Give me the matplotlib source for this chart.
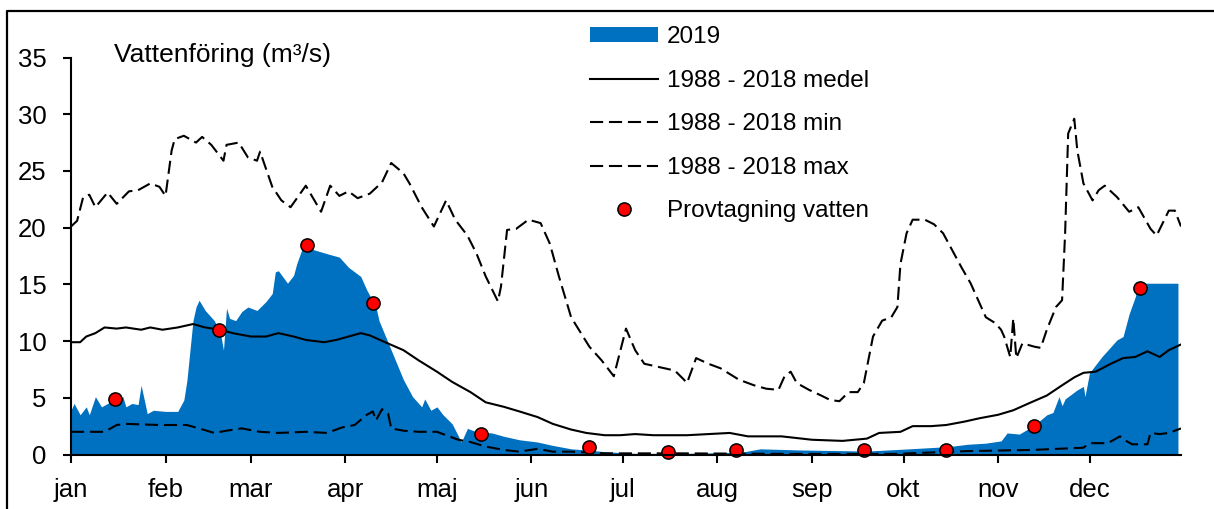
import numpy as np
import matplotlib
matplotlib.use('Agg')
import matplotlib.pyplot as plt
from matplotlib.lines import Line2D
from matplotlib.patches import Patch

plt.rcParams['font.family'] = ['Liberation Sans', 'DejaVu Sans']

months = ['jan', 'feb', 'mar', 'apr', 'maj', 'jun', 'jul', 'aug', 'sep', 'okt', 'nov', 'dec']
month_start = [0, 31, 59, 90, 120, 151, 181, 212, 243, 273, 304, 334]

# (day of year, m3/s)
flow_2019 = [(0, 3.9), (1, 4.5), (3, 3.5), (5, 4.2), (6, 3.5), (8, 5.1), (10, 4.2), (12, 4.5),
             (14, 4.8), (17, 5.1), (18, 4.2), (20, 4.5), (22, 4.4), (23, 6.1), (25, 3.6), (27, 3.9),
             (31, 3.8), (35, 3.8), (37, 4.8), (38, 6.5), (40, 11.8), (41, 13.0), (42, 13.6), (44, 12.7),
             (47, 11.8), (49, 10.7), (50, 9.2), (51, 12.9), (52, 12.0), (54, 11.8), (56, 12.6), (58, 13.0),
             (61, 12.7), (64, 13.5), (66, 14.2), (67, 16.1), (68, 16.2), (71, 15.1), (73, 15.8), (74, 16.8),
             (76, 18.3), (79, 18.1), (84, 17.7), (88, 17.4), (91, 16.5), (95, 15.7), (97, 14.5), (100, 13.0),
             (101, 11.8), (105, 9.2), (109, 6.6), (112, 5.1), (115, 4.2), (116, 4.9), (118, 3.9), (120, 4.2),
             (122, 3.5), (125, 2.7), (128, 1.1), (130, 2.3), (133, 2.0), (138, 1.9), (142, 1.6), (147, 1.3),
             (153, 1.1), (158, 0.8), (164, 0.5), (169, 0.4), (175, 0.25), (185, 0.1), (202, 0.1), (220, 0.2),
             (226, 0.5), (239, 0.4), (261, 0.3), (275, 0.5), (288, 0.7), (294, 0.9), (300, 1.0), (305, 1.2),
             (307, 1.9), (311, 1.8), (316, 2.6), (320, 3.5), (322, 3.7), (324, 5.1), (325, 4.3), (326, 4.9),
             (330, 5.7), (332, 6.0), (332.5, 5.1), (334, 7.2), (338, 8.6), (343, 10.1), (345, 10.4),
             (347, 12.4), (349, 13.9), (350, 15.1), (363, 15.1)]

flow_mean = [(0, 9.9), (3, 9.9), (5, 10.4), (8, 10.7), (11, 11.2), (15, 11.1), (18, 11.2), (23, 11.0),
             (26, 11.2), (30, 11.0), (35, 11.2), (40, 11.5), (44, 11.2), (49, 11.0), (53, 10.7), (59, 10.4),
             (64, 10.4), (68, 10.7), (73, 10.4), (77, 10.1), (83, 9.9), (87, 10.1), (91, 10.4), (95, 10.7),
             (98, 10.5), (103, 9.9), (109, 9.2), (114, 8.3), (120, 7.3), (125, 6.4), (131, 5.5), (136, 4.6),
             (142, 4.2), (147, 3.8), (153, 3.3), (158, 2.7), (164, 2.2), (169, 1.9), (175, 1.7), (180, 1.7),
             (185, 1.8), (191, 1.7), (196, 1.7), (202, 1.7), (216, 1.9), (222, 1.6), (233, 1.6), (243, 1.3),
             (253, 1.2), (261, 1.4), (265, 1.9), (272, 2.0), (276, 2.5), (282, 2.5), (287, 2.6), (293, 2.9),
             (298, 3.2), (304, 3.5), (309, 3.9), (314, 4.5), (320, 5.2), (325, 6.1), (329, 6.8), (332, 7.2),
             (336, 7.3), (341, 8.0), (345, 8.5), (349, 8.6), (353, 9.1), (357, 8.6), (360, 9.2), (364, 9.7)]

flow_min = [(0, 2.0), (11, 2.0), (15, 2.6), (18, 2.7), (29, 2.6), (38, 2.6), (42, 2.3), (47, 1.9),
            (51, 2.1), (56, 2.3), (62, 2.0), (68, 1.9), (77, 2.0), (84, 1.9), (89, 2.4), (93, 2.6),
            (97, 3.5), (99, 3.8), (100, 3.0), (102, 4.0), (104, 3.6), (105, 2.3), (109, 2.1), (114, 2.0),
            (120, 2.0), (123, 1.7), (127, 1.3), (131, 1.1), (136, 0.7), (142, 0.4), (147, 0.25), (153, 0.5),
            (158, 0.25), (164, 0.25), (175, 0.1), (200, 0.1), (240, 0.05), (270, 0.05), (294, 0.3),
            (315, 0.4), (332, 0.6), (334, 1.0), (340, 1.0), (344, 1.6), (346, 1.2), (348, 0.9), (353, 0.9),
            (354, 1.9), (357, 1.8), (360, 1.9), (364, 2.3)]

flow_max = [(0, 20.1), (2, 20.6), (4, 22.7), (6, 22.9), (8, 21.8), (12, 23.1), (15, 22.1), (19, 23.2),
            (22, 23.3), (26, 23.9), (29, 23.6), (31, 22.8), (33, 26.8), (34, 27.8), (37, 28.1), (41, 27.5),
            (43, 28.0), (46, 27.3), (50, 25.9), (51, 27.3), (55, 27.5), (58, 26.2), (61, 25.9), (62, 26.7),
            (66, 23.6), (69, 22.4), (72, 21.8), (77, 23.7), (82, 21.4), (85, 23.7), (88, 22.8), (91, 23.2),
            (94, 22.6), (98, 23.0), (102, 24.0), (105, 25.7), (109, 24.8), (111, 23.9), (115, 21.8),
            (119, 20.1), (123, 22.4), (126, 20.7), (130, 19.3), (133, 17.7), (136, 15.7), (140, 13.5),
            (141, 14.8), (143, 19.8), (146, 19.9), (150, 20.7), (154, 20.4), (157, 18.6), (160, 15.7),
            (164, 12.1), (170, 9.5), (174, 8.3), (178, 6.9), (182, 11.1), (185, 9.2), (188, 8.0), (193, 7.7),
            (198, 7.4), (201, 6.6), (202, 6.3), (205, 8.5), (209, 8.0), (213, 7.6), (219, 6.6), (224, 6.1),
            (228, 5.8), (232, 5.7), (234, 6.9), (236, 7.3), (238, 6.3), (242, 5.7), (246, 5.2), (249, 4.8),
            (252, 4.7), (255, 5.5), (258, 5.5), (260, 6.3), (263, 10.4), (266, 11.8), (269, 12.1),
            (271, 13.0), (272, 16.8), (274, 19.5), (276, 20.7), (280, 20.7), (283, 20.3), (286, 19.5),
            (289, 18.0), (292, 16.5), (295, 15.1), (298, 13.3), (300, 12.1), (303, 11.6), (305, 11.0),
            (306, 10.4), (308, 8.6), (309, 12.0), (310, 8.5), (312, 9.8), (316, 9.5), (318, 9.4),
            (320, 11.0), (323, 13.0), (325, 13.6), (326, 19.5), (327, 28.3), (329, 29.6), (330, 26.8),
            (332, 23.9), (335, 22.4), (337, 23.3), (339, 23.7), (343, 22.7), (347, 21.4), (350, 21.8),
            (354, 19.9), (356, 19.3), (358, 20.4), (360, 21.5), (362, 21.5), (364, 20.1)]

sample_day = [14.4, 48.5, 77.4, 99, 134.4, 169.8, 195.7, 218, 260, 287, 315.7, 350.5]
sample_val = [4.9, 11.0, 18.5, 13.4, 1.8, 0.7, 0.2, 0.4, 0.4, 0.4, 2.5, 14.7]

blue = '#0070C0'
W, H = 1214, 509
fig = plt.figure(figsize=(W / 100, H / 100), dpi=100)
ax = fig.add_axes([71 / W, 1 - 454.5 / H, (1181 - 71) / W, (454.5 - 57.5) / H])

d, v = np.array(flow_2019).T
ax.fill_between(d, v, 0, color=blue, lw=0)
dash = (6.3, 2.8)
d, v = np.array(flow_max).T
ax.plot(d, v, color='k', lw=1.5, dashes=dash)
d, v = np.array(flow_min).T
ax.plot(d, v, color='k', lw=1.5, dashes=dash)
d, v = np.array(flow_mean).T
ax.plot(d, v, color='k', lw=1.5)
ax.plot(sample_day, sample_val, 'o', ms=9.5, mfc='#FF0000', mec='k', mew=1.1, clip_on=False)

ax.set_xlim(0, 364)
ax.set_ylim(0, 35)
ax.set_xticks(month_start)
ax.set_xticklabels(months)
ax.set_yticks(range(0, 36, 5))
for s in ['top', 'right']:
    ax.spines[s].set_visible(False)
for s in ['left', 'bottom']:
    ax.spines[s].set_linewidth(1.5)
ax.tick_params(axis='x', direction='out', length=6, width=1.5, labelsize=18.5, pad=11)
ax.tick_params(axis='y', direction='out', length=5.5, width=1.5, labelsize=18.5, pad=12)

ax.text(14.0, 34.6, 'Vattenföring (m³/s)', fontsize=19, va='baseline', ha='left')

handles = [Patch(color=blue, lw=0),
           Line2D([], [], color='k', lw=1.5),
           Line2D([], [], color='k', lw=1.5, dashes=dash),
           Line2D([], [], color='k', lw=1.5, dashes=dash),
           Line2D([], [], ls='none', marker='o', ms=9.5, mfc='#FF0000', mec='k', mew=1.1)]
labels = ['2019', '1988 - 2018 medel', '1988 - 2018 min', '1988 - 2018 max', 'Provtagning vatten']
fig.legend(handles, labels, loc='upper left', bbox_to_anchor=(578 / W, 1 - 14 / H),
           frameon=False, fontsize=17.5, borderpad=0, handlelength=2.8, handleheight=0.6,
           handletextpad=0.37, labelspacing=0.885)

# outer frame of the chart (only left and top edges are inside the picture)
fig.add_artist(Line2D([7 / W, 7 / W, 1.0], [0.0, 1 - 11 / H, 1 - 11 / H],
                      transform=fig.transFigure, color='k', lw=1.6))

fig.savefig('out.png', dpi=100)
